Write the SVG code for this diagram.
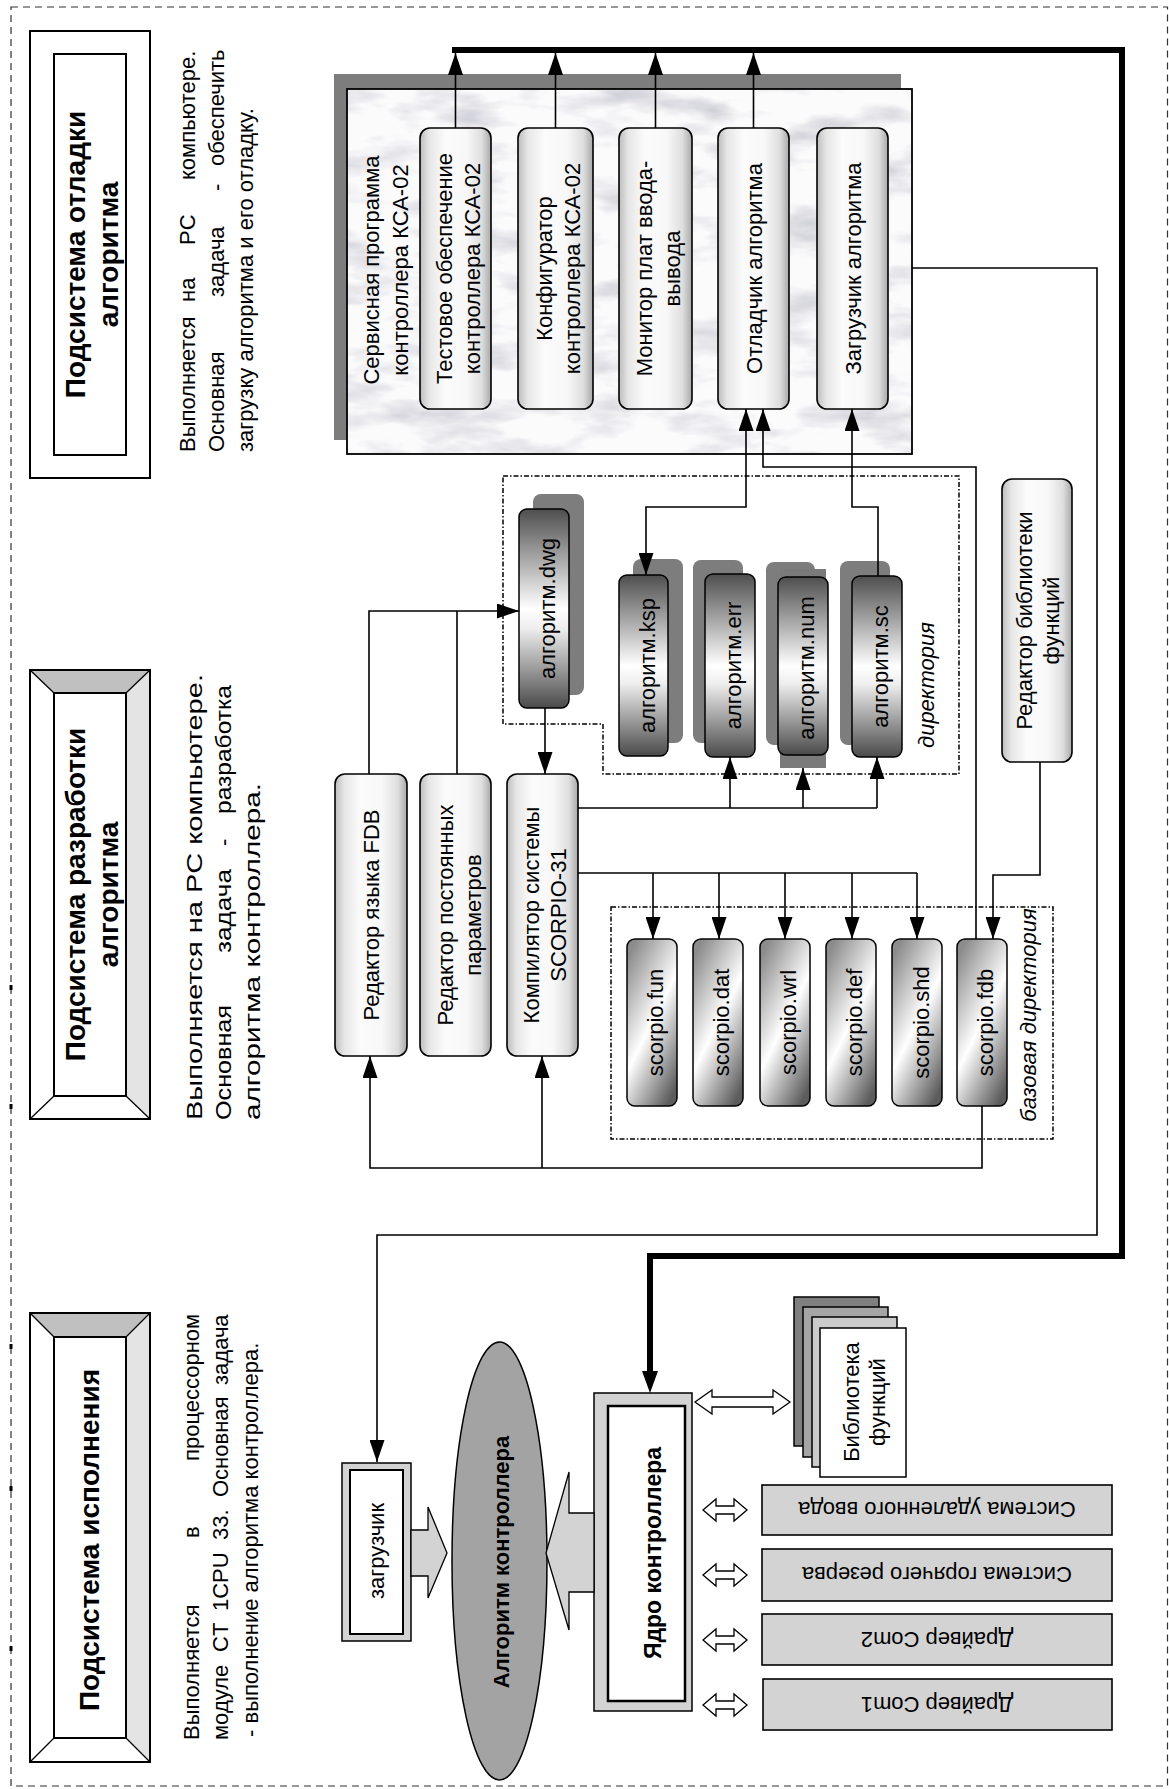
<svg xmlns="http://www.w3.org/2000/svg" width="1169" height="1789" viewBox="0 0 1169 1789">
<defs>
<style>
.t{font-family:"Liberation Sans",Arial,sans-serif;font-size:22px;fill:#000}
.b{font-weight:bold}
.i{font-style:italic}
.m{text-anchor:middle}
.ttl{font-size:28px;font-weight:bold}
.c{fill:none;stroke:#000;stroke-width:1.6}
.node{fill:url(#gL);stroke:#000;stroke-width:1.6}
.file{fill:url(#gD);stroke:#000;stroke-width:1.5}
.scf{fill:url(#gS);stroke:#000;stroke-width:1.5}
.sh{fill:#7d7d7d}
.drv{fill:#d3d3d3;stroke:#000;stroke-width:1.6}
.dash{fill:none;stroke:#000;stroke-width:1.5;stroke-dasharray:5 2 1.5 2}
.hol{fill:#fff;stroke:#000;stroke-width:1.3}
.big{fill:#d3d3d3;stroke:#000;stroke-width:1.3}
.bev{fill:#fff;stroke:#000;stroke-width:2}
.dg{stroke:#000;stroke-width:1.3}
</style>
<linearGradient id="gL" x1="0" y1="0" x2="1" y2="0">
<stop offset="0" stop-color="#bdbdbd"/><stop offset="0.13" stop-color="#e6e6e6"/><stop offset="0.35" stop-color="#fbfbfb"/><stop offset="0.65" stop-color="#f8f8f8"/><stop offset="0.87" stop-color="#dedede"/><stop offset="1" stop-color="#a9a9a9"/>
</linearGradient>
<linearGradient id="gD" x1="0" y1="0" x2="0" y2="1">
<stop offset="0" stop-color="#4e4e4e"/><stop offset="0.5" stop-color="#ffffff"/><stop offset="0.6" stop-color="#eeeeee"/><stop offset="1" stop-color="#4a4a4a"/>
</linearGradient>
<linearGradient id="gS" x1="0.2" y1="0" x2="0.8" y2="1">
<stop offset="0" stop-color="#8c8c8c"/><stop offset="0.5" stop-color="#ffffff"/><stop offset="1" stop-color="#5c5c5c"/>
</linearGradient>
<filter id="marble" x="0" y="0" width="1" height="1">
<feTurbulence type="fractalNoise" baseFrequency="0.012 0.035" numOctaves="4" seed="7" result="n"/>
<feColorMatrix in="n" type="matrix" values="0 0 0 0 0.62  0 0 0 0 0.62  0 0 0 0 0.68  2.6 0 0 0 -1.2"/>
</filter>
<marker id="ah" viewBox="0 0 22 15" refX="22" refY="7.5" markerWidth="22" markerHeight="15" markerUnits="userSpaceOnUse" orient="auto-start-reverse">
<path d="M0,0 L22,7.5 L0,15 z" fill="#000"/>
</marker>
<marker id="ahT" viewBox="0 0 22 16" refX="4" refY="8" markerWidth="22" markerHeight="16" markerUnits="userSpaceOnUse" orient="auto">
<path d="M0,0 L22,8 L0,16 z" fill="#000"/>
</marker>
</defs>

<rect x="0" y="0" width="1169" height="1789" fill="#fff"/>
<rect x="11" y="7" width="1156.5" height="1779" fill="none" stroke="#333" stroke-width="1.2" stroke-dasharray="7 5"/>
<g id="border-marks" fill="#000">
<rect x="9.5" y="985" width="3" height="5"/><rect x="9.5" y="1104" width="3" height="5"/><rect x="9.5" y="1344" width="3" height="5"/><rect x="9.5" y="1486" width="3" height="5"/><rect x="9.5" y="1646" width="3" height="5"/>
</g>

<!-- Title boxes -->
<g id="title-debug">
<rect class="bev" x="30" y="31" width="120" height="447"/>
<polygon points="30,31 150,31 126,54 54,54" fill="#c0c0c0"/>
<polygon points="150,31 150,478 126,455 126,54" fill="#e4e4e4"/>
<line class="dg" x1="30" y1="31" x2="54" y2="54"/><line class="dg" x1="150" y1="31" x2="126" y2="54"/><line class="dg" x1="150" y1="478" x2="126" y2="455"/><line class="dg" x1="30" y1="478" x2="54" y2="455"/>
<rect class="bev" x="30" y="31" width="120" height="447" fill="none"/>
<rect class="bev" x="54" y="54" width="72" height="401"/>
<text class="t ttl m" transform="translate(85,254.5) rotate(-90)">Подсистема отладки</text>
<text class="t ttl m" transform="translate(118,254.5) rotate(-90)">алгоритма</text>
</g>
<g id="title-dev">
<rect class="bev" x="30" y="670" width="120" height="449"/>
<polygon points="30,670 150,670 126,693 54,693" fill="#c0c0c0"/>
<polygon points="150,670 150,1119 126,1096 126,693" fill="#e4e4e4"/>
<line class="dg" x1="30" y1="670" x2="54" y2="693"/><line class="dg" x1="150" y1="670" x2="126" y2="693"/><line class="dg" x1="150" y1="1119" x2="126" y2="1096"/><line class="dg" x1="30" y1="1119" x2="54" y2="1096"/>
<rect x="30" y="670" width="120" height="449" fill="none" stroke="#000" stroke-width="2"/>
<rect class="bev" x="54" y="693" width="72" height="403"/>
<text class="t ttl m" transform="translate(85,894.5) rotate(-90)">Подсистема разработки</text>
<text class="t ttl m" transform="translate(118,894.5) rotate(-90)">алгоритма</text>
</g>
<g id="title-exec">
<rect class="bev" x="30" y="1313" width="120" height="449"/>
<polygon points="30,1313 150,1313 126,1337 54,1337" fill="#c0c0c0"/>
<polygon points="150,1313 150,1762 126,1738 126,1337" fill="#e4e4e4"/>
<line class="dg" x1="30" y1="1313" x2="54" y2="1337"/><line class="dg" x1="150" y1="1313" x2="126" y2="1337"/><line class="dg" x1="150" y1="1762" x2="126" y2="1738"/><line class="dg" x1="30" y1="1762" x2="54" y2="1738"/>
<rect x="30" y="1313" width="120" height="449" fill="none" stroke="#000" stroke-width="2"/>
<rect class="bev" x="54" y="1337" width="72" height="401"/>
<text class="t ttl m" transform="translate(99,1540) rotate(-90)">Подсистема исполнения</text>
</g>

<!-- Descriptions -->
<g id="desc-debug" class="t">
<g transform="translate(195,452) rotate(-90)"><text x="0">Выполняется</text><text x="150">на</text><text x="207">PC</text><text x="272">компьютере.</text></g>
<g transform="translate(224,452) rotate(-90)"><text x="0">Основная</text><text x="155">задача</text><text x="261">-</text><text x="286">обеспечить</text></g>
<text transform="translate(253,452) rotate(-90)">загрузку алгоритма и его отладку.</text>
</g>
<g id="desc-dev" class="t">
<text transform="translate(202,1120) rotate(-90)" textLength="446" lengthAdjust="spacingAndGlyphs">Выполняется на PC компьютере.</text>
<g transform="translate(231,1120) rotate(-90)"><text x="0" textLength="115" lengthAdjust="spacingAndGlyphs">Основная</text><text x="167" textLength="84" lengthAdjust="spacingAndGlyphs">задача</text><text x="274">-</text><text x="306" textLength="129" lengthAdjust="spacingAndGlyphs">разработка</text></g>
<text transform="translate(260,1120) rotate(-90)" textLength="337" lengthAdjust="spacingAndGlyphs">алгоритма контроллера.</text>
</g>
<g id="desc-exec" class="t">
<g transform="translate(199,1740) rotate(-90)"><text x="0">Выполняется</text><text x="202">в</text><text x="279">процессорном</text></g>
<g transform="translate(228,1740) rotate(-90)"><text x="0">модуле</text><text x="88">CT</text><text x="129">1CPU</text><text x="200">33.</text><text x="243">Основная</text><text x="355">задача</text></g>
<text transform="translate(258,1740) rotate(-90)" x="3">- выполнение алгоритма контроллера.</text>
</g>

<!-- Service program container -->
<g id="service">
<rect class="sh" x="334" y="74" width="567" height="366"/>
<rect x="347" y="89" width="565" height="365" fill="#fbfbfc"/>
<rect x="347" y="89" width="565" height="365" fill="#fff" filter="url(#marble)"/>
<rect x="347" y="89" width="565" height="365" fill="none" stroke="#000" stroke-width="1.8"/>
<text class="t m" transform="translate(379,270) rotate(-90)">Сервисная программа</text>
<text class="t m" transform="translate(408,270) rotate(-90)">контроллера КСА-02</text>
</g>
<g id="test-sw">
<rect class="node" x="420" y="128" width="71" height="281" rx="10"/>
<text class="t m" transform="translate(451.5,268.5) rotate(-90)">Тестовое обеспечение</text>
<text class="t m" transform="translate(479.5,268.5) rotate(-90)">контроллера КСА-02</text>
</g>
<g id="configurator">
<rect class="node" x="518" y="128" width="75" height="281" rx="10"/>
<text class="t m" transform="translate(551.5,268.5) rotate(-90)">Конфигуратор</text>
<text class="t m" transform="translate(579.5,268.5) rotate(-90)">контроллера КСА-02</text>
</g>
<g id="io-monitor">
<rect class="node" x="619" y="128" width="73" height="281" rx="10"/>
<text class="t m" transform="translate(651.5,268.5) rotate(-90)">Монитор плат ввода-</text>
<text class="t m" transform="translate(679.5,268.5) rotate(-90)">вывода</text>
</g>
<g id="debugger">
<rect class="node" x="718" y="128" width="71" height="281" rx="10"/>
<text class="t m" transform="translate(761.5,268.5) rotate(-90)">Отладчик алгоритма</text>
</g>
<g id="algo-loader">
<rect class="node" x="817" y="128" width="71" height="281" rx="10"/>
<text class="t m" transform="translate(860.5,268.5) rotate(-90)">Загрузчик алгоритма</text>
</g>

<!-- Directory frames -->
<g id="dir-frame">
<polygon class="dash" points="503,476 959,476 959,774 603,774 603,724 503,724"/>
<text class="t i m" transform="translate(934,685) rotate(-90)">директория</text>
</g>
<g id="base-dir-frame">
<rect class="dash" x="611" y="907" width="442" height="232"/>
<text class="t i m" transform="translate(1036,1015) rotate(-90)">базовая директория</text>
</g>

<!-- Algorithm files -->
<g id="file-dwg">
<rect class="sh" x="533" y="494" width="51" height="201" rx="8"/>
<rect class="file" x="519" y="509" width="50" height="199" rx="8"/>
<text class="t m" transform="translate(555,608.5) rotate(-90)">алгоритм.dwg</text>
</g>
<g id="file-ksp">
<rect class="sh" x="633" y="559" width="50" height="184" rx="8"/>
<rect class="file" x="619" y="575" width="49" height="181" rx="8"/>
<text class="t m" transform="translate(655,665.5) rotate(-90)">алгоритм.ksp</text>
</g>
<g id="file-err">
<rect class="sh" x="693" y="560" width="50" height="183" rx="8"/>
<rect class="file" x="705" y="574" width="50" height="183" rx="8"/>
<text class="t m" transform="translate(741,665.5) rotate(-90)">алгоритм.err</text>
</g>
<g id="file-num">
<rect class="sh" x="766" y="562" width="49" height="183" rx="8"/>
<rect x="780" y="569" width="46" height="199" fill="#7a7a7a"/>
<rect class="file" x="778" y="577" width="50" height="178" rx="8"/>
<text class="t m" transform="translate(814,668) rotate(-90)">алгоритм.num</text>
</g>
<g id="file-sc">
<rect class="sh" x="840" y="561" width="50" height="184" rx="8"/>
<rect class="file" x="852" y="576" width="50" height="181" rx="8"/>
<text class="t m" transform="translate(888,666.5) rotate(-90)">алгоритм.sc</text>
</g>

<!-- Editors / compiler -->
<g id="fdb-editor">
<rect class="node" x="335" y="774" width="72" height="282" rx="10"/>
<text class="t m" transform="translate(379,915) rotate(-90)">Редактор языка FDB</text>
</g>
<g id="param-editor">
<rect class="node" x="420" y="774" width="71" height="282" rx="10"/>
<text class="t m" transform="translate(453,915) rotate(-90)">Редактор постоянных</text>
<text class="t m" transform="translate(481,915) rotate(-90)">параметров</text>
</g>
<g id="compiler">
<rect class="node" x="507" y="774" width="71" height="282" rx="10"/>
<text class="t m" transform="translate(539,915) rotate(-90)">Компилятор системы</text>
<text class="t m" transform="translate(566,915) rotate(-90)">SCORPIO-31</text>
</g>
<g id="lib-editor">
<rect class="node" x="1002" y="479" width="70" height="283" rx="10"/>
<text class="t m" transform="translate(1032,620.5) rotate(-90)">Редактор библиотеки</text>
<text class="t m" transform="translate(1059,620.5) rotate(-90)">функций</text>
</g>

<!-- Scorpio files -->
<g id="scorpio-fun"><rect class="scf" x="627" y="939" width="50" height="167" rx="8"/><text class="t m" transform="translate(663,1022.5) rotate(-90)">scorpio.fun</text></g>
<g id="scorpio-dat"><rect class="scf" x="693" y="939" width="50" height="167" rx="8"/><text class="t m" transform="translate(729,1022.5) rotate(-90)">scorpio.dat</text></g>
<g id="scorpio-wrl"><rect class="scf" x="760" y="939" width="50" height="167" rx="8"/><text class="t m" transform="translate(796,1022.5) rotate(-90)">scorpio.wrl</text></g>
<g id="scorpio-def"><rect class="scf" x="826" y="939" width="50" height="167" rx="8"/><text class="t m" transform="translate(862,1022.5) rotate(-90)">scorpio.def</text></g>
<g id="scorpio-shd"><rect class="scf" x="892" y="939" width="50" height="167" rx="8"/><text class="t m" transform="translate(928.5,1022.5) rotate(-90)">scorpio.shd</text></g>
<g id="scorpio-fdb"><rect class="scf" x="957" y="939" width="50" height="167" rx="8"/><text class="t m" transform="translate(993,1022.5) rotate(-90)">scorpio.fdb</text></g>

<!-- Execution subsystem -->
<g id="loader">
<rect x="342" y="1463" width="69" height="178" fill="#d3d3d3" stroke="#000" stroke-width="1.5"/>
<rect x="350" y="1470" width="53" height="164" fill="#fff" stroke="#000" stroke-width="2"/>
<text class="t m" transform="translate(384,1551) rotate(-90)">загрузчик</text>
</g>
<g id="controller-algorithm">
<ellipse cx="499.5" cy="1561" rx="47.5" ry="219" fill="#a3a3a3" stroke="#000" stroke-width="1.5"/>
<text class="t b m" transform="translate(509,1562) rotate(-90)">Алгоритм контроллера</text>
</g>
<g id="controller-core">
<rect x="594" y="1393" width="98" height="318" fill="#d3d3d3" stroke="#000" stroke-width="1.5"/>
<rect x="608" y="1406" width="77" height="295" fill="#fff" stroke="#000" stroke-width="2.5"/>
<text class="t b m" style="font-size:23px" transform="translate(661,1553) rotate(-90)">Ядро контроллера</text>
</g>
<g id="function-library">
<rect x="794" y="1297" width="85" height="149" fill="#7f7f7f" stroke="#000" stroke-width="1.5"/>
<rect x="803" y="1307" width="85" height="150" fill="#a5a5a5" stroke="#000" stroke-width="1.5"/>
<rect x="812" y="1317" width="85" height="150" fill="#cbcbcb" stroke="#000" stroke-width="1.5"/>
<rect x="820" y="1328" width="86" height="149" fill="#fff" stroke="#000" stroke-width="1.5"/>
<text class="t m" transform="translate(859,1402) rotate(-90)">Библиотека</text>
<text class="t m" transform="translate(885,1402) rotate(-90)">функций</text>
</g>
<g id="remote-io">
<rect class="drv" x="762" y="1485" width="350" height="50"/>
<text class="t m" transform="translate(937,1502) rotate(180)">Система удаленного ввода</text>
</g>
<g id="hot-standby">
<rect class="drv" x="762" y="1549" width="350" height="52"/>
<text class="t m" transform="translate(937,1567) rotate(180)">Система горячего резерва</text>
</g>
<g id="com2-driver">
<rect class="drv" x="762" y="1614" width="350" height="51"/>
<text class="t m" transform="translate(937,1631.5) rotate(180)">Драйвер Com2</text>
</g>
<g id="com1-driver">
<rect class="drv" x="763" y="1679" width="349" height="51"/>
<text class="t m" transform="translate(937,1696.5) rotate(180)">Драйвер Com1</text>
</g>

<!-- Connectors -->
<g id="connectors">
<polyline points="452,50 1122,50 1122,1256 650,1256 650,1375" fill="none" stroke="#000" stroke-width="6" marker-end="url(#ahT)"/>
<line class="c" x1="455.5" y1="128" x2="455.5" y2="53" marker-end="url(#ah)"/>
<line class="c" x1="555.5" y1="128" x2="555.5" y2="53" marker-end="url(#ah)"/>
<line class="c" x1="655.5" y1="128" x2="655.5" y2="53" marker-end="url(#ah)"/>
<line class="c" x1="753.5" y1="128" x2="753.5" y2="53" marker-end="url(#ah)"/>
<polyline class="c" points="912,268 1097,268 1097,1235 377,1235 377,1462" stroke="#333" marker-end="url(#ah)"/>
<polyline class="c" points="369,774 369,611 519,611" marker-end="url(#ah)"/>
<line class="c" x1="457" y1="774" x2="457" y2="611"/>
<line class="c" x1="545" y1="708" x2="545" y2="774" marker-end="url(#ah)"/>
<polyline class="c" points="578,808 877,808"/>
<line class="c" x1="730" y1="808" x2="730" y2="757" marker-end="url(#ah)"/>
<line class="c" x1="803" y1="808" x2="803" y2="768" marker-end="url(#ah)"/>
<line class="c" x1="877" y1="808" x2="877" y2="757" marker-end="url(#ah)"/>
<polyline class="c" points="578,873 917,873"/>
<line class="c" x1="653" y1="873" x2="653" y2="939" marker-end="url(#ah)"/>
<line class="c" x1="719" y1="873" x2="719" y2="939" marker-end="url(#ah)"/>
<line class="c" x1="785" y1="873" x2="785" y2="939" marker-end="url(#ah)"/>
<line class="c" x1="852" y1="873" x2="852" y2="939" marker-end="url(#ah)"/>
<line class="c" x1="917" y1="873" x2="917" y2="939" marker-end="url(#ah)"/>
<polyline class="c" points="982,1106 982,1168 370,1168 370,1056" marker-end="url(#ah)"/>
<line class="c" x1="542" y1="1168" x2="542" y2="1056" marker-end="url(#ah)"/>
<polyline class="c" points="976,939 976,467 763,467 763,409" marker-end="url(#ah)"/>
<polyline class="c" points="746,409 746,507 646,507 646,575" marker-start="url(#ah)" marker-end="url(#ah)"/>
<polyline class="c" points="878,576 878,507 852,507 852,409" marker-end="url(#ah)"/>
<polyline class="c" points="1040,762 1040,875 993,875 993,939" stroke="#333" marker-end="url(#ah)"/>
<polygon class="big" points="411,1530 428,1530 428,1507 447,1553 428,1598 428,1576 411,1576"/>
<polygon class="big" points="594,1513 569,1513 569,1472 546,1553 569,1630 569,1592 594,1592"/>
<polygon class="hol" points="695,1402 712,1390 712,1397 773,1397 773,1390 790,1402 773,1414 773,1407 712,1407 712,1414"/>
<polygon class="hol" points="703,1510 716,1499 716,1506 734,1506 734,1499 747,1510 734,1521 734,1514 716,1514 716,1521"/>
<polygon class="hol" points="703,1575 716,1564 716,1571 734,1571 734,1564 747,1575 734,1586 734,1579 716,1579 716,1586"/>
<polygon class="hol" points="703,1640 716,1629 716,1636 734,1636 734,1629 747,1640 734,1651 734,1644 716,1644 716,1651"/>
<polygon class="hol" points="703,1705 716,1694 716,1701 734,1701 734,1694 747,1705 734,1716 734,1709 716,1709 716,1716"/>
</g>
</svg>
